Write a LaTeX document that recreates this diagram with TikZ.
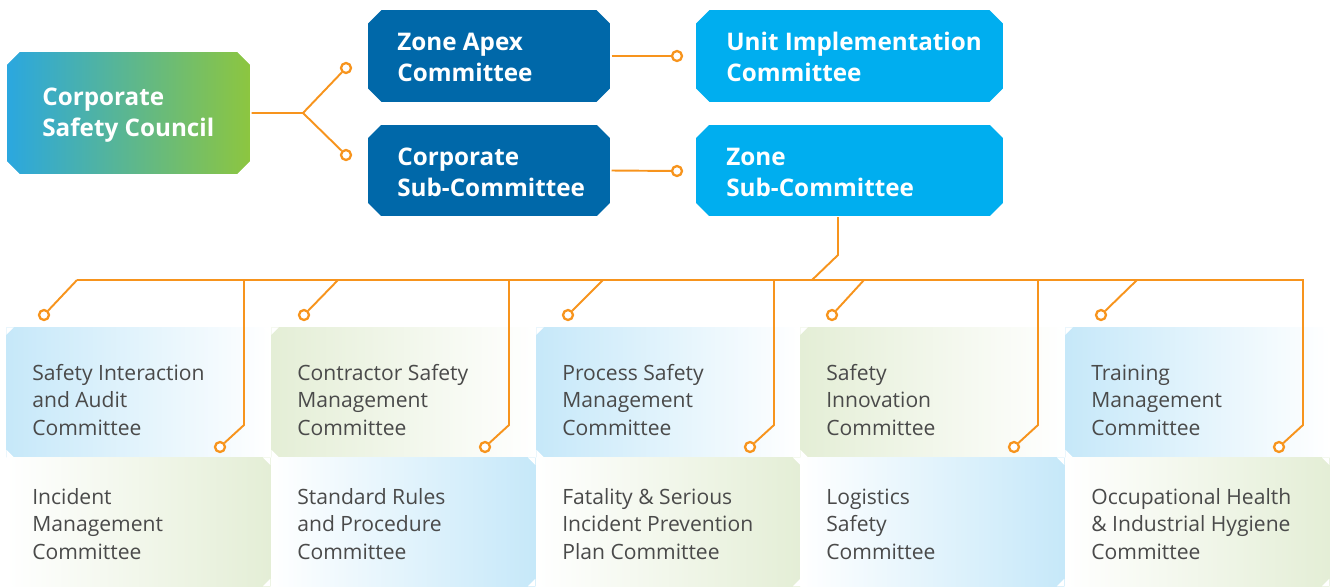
\documentclass[tikz,border=0pt]{standalone}
\usepackage{fontspec}
\setmainfont{Open Sans}
\definecolor{deepblue}{HTML}{0068A9}
\definecolor{skyblue}{HTML}{00AEEF}
\definecolor{councilblue}{HTML}{2AA7E0}
\definecolor{councilgreen}{HTML}{8DC63F}
\definecolor{wire}{HTML}{F7941D}
\definecolor{paleblue}{HTML}{C6E8F9}
\definecolor{palegreen}{HTML}{E4EED6}
\definecolor{inktext}{HTML}{4A4A4A}
\begin{document}
\begin{tikzpicture}[x=0.02cm, y=-0.02cm,
    cut/.style={path picture={
      \fill[white] (path picture bounding box.north west) -- +(#1,0) -- +(0,-#1) -- cycle;
      \fill[white] (path picture bounding box.north east) -- +(-#1,0) -- +(0,-#1) -- cycle;
      \fill[white] (path picture bounding box.south west) -- +(#1,0) -- +(0,#1) -- cycle;
      \fill[white] (path picture bounding box.south east) -- +(-#1,0) -- +(0,#1) -- cycle;}},
    headbox/.style={rectangle, cut=0.29cm, inner sep=0pt, minimum height=1.85cm,
      draw=white, line width=0.6pt},
    headtxt/.style={anchor=west, inner sep=0pt, align=left, text=white,
      font=\fontsize{13.8}{17.6}\selectfont\bfseries},
    lowbox/.style={rectangle, cut=0.15cm, inner sep=0pt, minimum width=5.28cm,
      anchor=north west},
    lowtxt/.style={anchor=west, inner sep=0pt, align=left, text=inktext,
      font=\fontsize{12}{15.6}\selectfont},
    link/.style={draw=wire, line width=1.1pt},
    ring/.style={circle, draw=wire, line width=1.3pt, fill=white,
      inner sep=0pt, minimum size=0.2cm}]
  % pixel grid: 1 unit = 1 px of the 1330 x 586 sheet, y running down
  \useasboundingbox (0,0) rectangle (1330,586);
  % upper chart
  \node[headbox, minimum width=4.9cm, minimum height=2.48cm, left color=councilblue, right color=councilgreen] (council) at (128.5,113) {};
  \node[headbox, minimum width=4.88cm, fill=deepblue] (apex) at (489,56) {};
  \node[headbox, minimum width=4.88cm, fill=deepblue] (corpsub) at (489,170.5) {};
  \node[headbox, minimum width=6.18cm, fill=skyblue] (unit) at (849.5,56) {};
  \node[headbox, minimum width=6.18cm, fill=skyblue] (zonesub) at (849.5,170.5) {};
  \node[headtxt] (council-t) at (42,115) {Corporate\\Safety Council};
  \node[headtxt] (apex-t) at (397,57) {Zone Apex\\Committee};
  \node[headtxt] (corpsub-t) at (397,172) {Corporate\\Sub-Committee};
  \node[headtxt] (unit-t) at (726,57) {Unit Implementation\\Committee};
  \node[headtxt] (zonesub-t) at (726,172) {Zone\\Sub-Committee};
  % lower chart: one column per committee pair
  \foreach \i/\L/\up/\dn/\ta/\tb in {
      1/6/paleblue/palegreen/{Safety Interaction\\and Audit\\Committee}/{Incident\\Management\\Committee},
      2/271/palegreen/paleblue/{Contractor Safety\\Management\\Committee}/{Standard Rules\\and Procedure\\Committee},
      3/536/paleblue/palegreen/{Process Safety\\Management\\Committee}/{Fatality \& Serious\\Incident Prevention\\Plan Committee},
      4/800/palegreen/paleblue/{Safety\\Innovation\\Committee}/{Logistics\\Safety\\Committee},
      5/1065/paleblue/palegreen/{Training\\Management\\Committee}/{Occupational Health\\\& Industrial Hygiene\\Committee}} {
    \node[lowbox, minimum height=2.6cm, left color=\up, right color=white] (up\i) at (\L,327) {};
    \node[lowbox, minimum height=2.58cm, left color=white, right color=\dn] (dn\i) at (\L,457) {};
    \node[lowtxt] (up\i-t) at (\L+26,400) {\ta};
    \node[lowtxt] (dn\i-t) at (\L+26,524) {\tb};
  }
  % connectors
  \node[ring] (apex-in) at (346,68) {};
  \node[ring] (corpsub-in) at (346,155) {};
  \node[ring] (unit-in) at (677,56) {};
  \node[ring] (zonesub-in) at (677,171) {};
  \coordinate (fork) at (303,113);
  \draw[link] (council.east) -- (fork) -- (apex-in);
  \draw[link] (fork) -- (corpsub-in);
  \draw[link] (apex.east) -- (unit-in);
  \draw[link] (corpsub.east) -- (zonesub-in);
  \coordinate (zs-out) at (838,217);
  \coordinate (zs-knee) at (838,255);
  \coordinate (bus-in) at (812,280);
  \coordinate (bus-w) at (77,280);
  \coordinate (bus-e) at (1304,280);
  \draw[link] (zs-out) -- (zs-knee) -- (bus-in);
  \draw[link] (bus-w) -- (bus-e);
  \foreach \i/\L/\tx/\cx in {1/6/77/44, 2/271/338/304, 3/536/603/568, 4/800/864/832, 5/1065/1137/1101} {
    \coordinate (tap\i) at (\tx,280);
    \node[ring] (up\i-in) at (\cx,315) {};
    \draw[link] (tap\i) -- (up\i-in);
    \coordinate (drop\i) at (\L+238,280);
    \coordinate (knee\i) at (\L+238,425);
    \node[ring] (dn\i-in) at (\L+214,447) {};
    \draw[link] (drop\i) -- (knee\i) -- (dn\i-in);
  }
\end{tikzpicture}
\end{document}
